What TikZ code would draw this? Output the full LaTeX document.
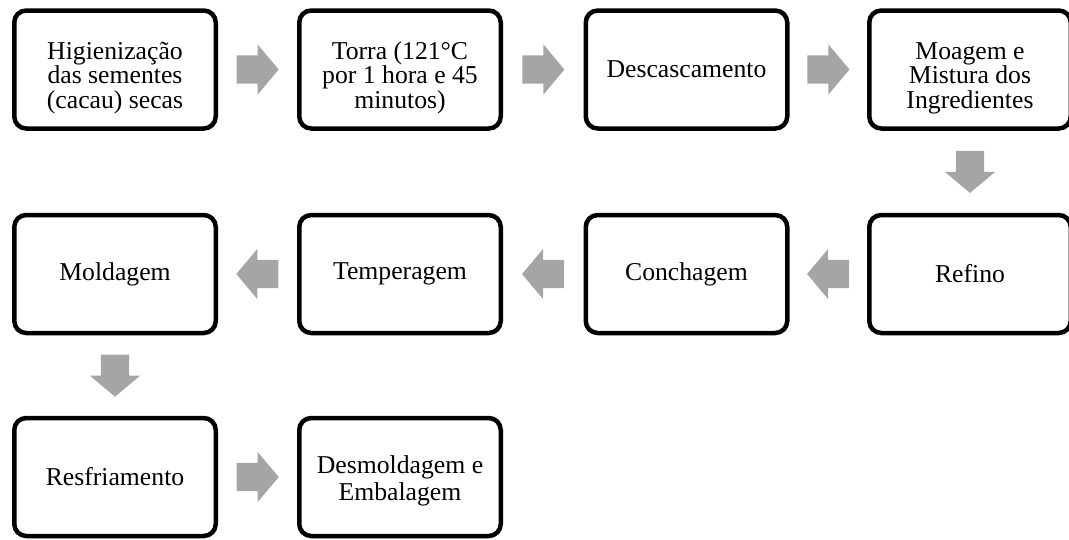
\documentclass[tikz,border=0pt]{standalone}
\usepackage{fontspec}
\setmainfont{Liberation Serif}
\usetikzlibrary{shapes.arrows,calc}

\definecolor{cinza}{HTML}{A5A5A5}

\tikzset{
    etapa/.style={draw, line width=4.5pt, rounded corners=12pt,
        minimum width=201.5pt, minimum height=118pt, inner sep=0pt,
        align=center, font=\fontsize{25.7}{24.5}\selectfont},
    tres/.style={text height=85pt, text depth=8pt},
    duas/.style={font=\fontsize{25.7}{27}\selectfont, text height=55.4pt, text depth=8pt},
    seta/.style={single arrow, fill=cinza, draw=none, anchor=tail,
        inner xsep=0pt, inner ysep=14pt,
        minimum height=42pt, minimum width=50pt,
        single arrow head extend=11pt, single arrow tip angle=100},
    setaesq/.style={seta, shape border rotate=180},
    setabaixo/.style={seta, shape border rotate=270, inner xsep=14pt, inner ysep=0pt}
}

\begin{document}
\begin{tikzpicture}[x=1pt, y=-1pt]

    \useasboundingbox (0,0) rectangle (1069,539);

    % primeira linha
    \node[etapa, tres] (higien)  at (115,69.5)   {Higienização\\das sementes\\(cacau) secas};
    \node[etapa, tres] (torra)   at (400,69.5)   {Torra (121°C\\por 1 hora e 45\\minutos)};
    \node[etapa] (descasc)       at (686.5,69.5) {Descascamento};
    \node[etapa, tres] (moagem)  at (970,69.5)   {Moagem e\\Mistura dos\\Ingredientes};

    % segunda linha
    \node[etapa] (refino)  at (970,274)   {Refino};
    \node[etapa] (conchag) at (686.5,274) {Conchagem};
    \node[etapa] (temper)  at (400,274)   {Temperagem};
    \node[etapa] (moldag)  at (115,274)   {Moldagem};

    % terceira linha
    \node[etapa] (resfri)        at (115,477) {Resfriamento};
    \node[etapa, duas] (desmold) at (400,477) {Desmoldagem e\\Embalagem};

    % setas (cauda a 21pt do meio)
    \node[seta] (s1) at ($(higien.east)!0.5!(torra.west)+(-21,0)$) {};
    \node[seta] (s2) at ($(torra.east)!0.5!(descasc.west)+(-21,0)$) {};
    \node[seta] (s3) at ($(descasc.east)!0.5!(moagem.west)+(-21,0)$) {};
    \node[setabaixo] (s4) at ($(moagem.south)!0.5!(refino.north)+(0,-21)$) {};
    \node[setaesq] (s5) at ($(refino.west)!0.5!(conchag.east)+(21,0)$) {};
    \node[setaesq] (s6) at ($(conchag.west)!0.5!(temper.east)+(21,0)$) {};
    \node[setaesq] (s7) at ($(temper.west)!0.5!(moldag.east)+(21,0)$) {};
    \node[setabaixo] (s8) at ($(moldag.south)!0.5!(resfri.north)+(0,-21)$) {};
    \node[seta] (s9) at ($(resfri.east)!0.5!(desmold.west)+(-21,0)$) {};

\end{tikzpicture}
\end{document}
